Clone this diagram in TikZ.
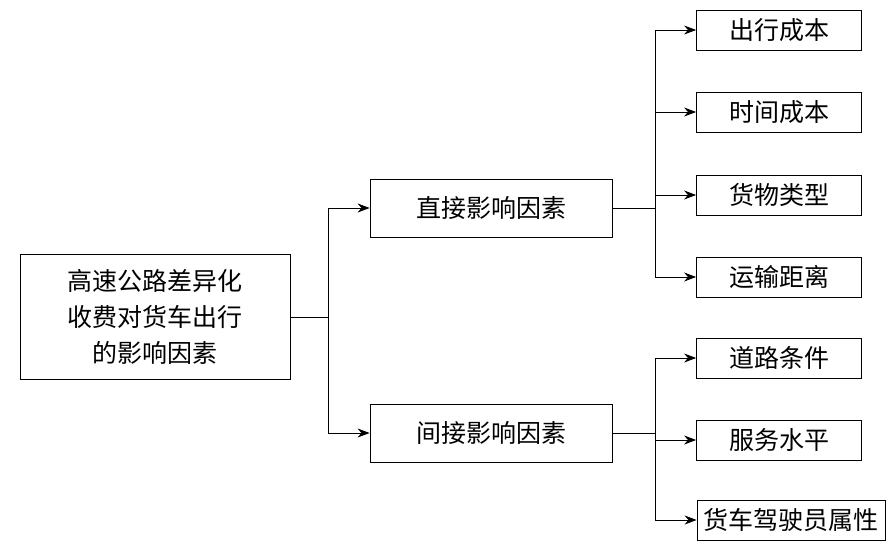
\documentclass[tikz,border=0pt]{standalone}
\usepackage{fontspec}
\newfontfamily\cjk{Noto Sans CJK SC}
\usetikzlibrary{arrows.meta, positioning, calc}

\begin{document}
\begin{tikzpicture}[x=1pt, y=-1pt,
    box/.style={rectangle, draw, thick, align=center, font=\cjk\fontsize{25}{36}\selectfont, inner sep=0pt},
    leaf/.style={box, minimum width=165pt, minimum height=40pt},
    mid/.style={box, minimum width=242pt, minimum height=58pt},
    arrow/.style={-{Stealth[length=12pt, width=9pt]}, thick}
]
\useasboundingbox (0,0) rectangle (896,558);

\node[box, minimum width=270pt, minimum height=125pt] (root) at (155,317) {高速公路差异化\\收费对货车出行\\的影响因素};
\node[mid] (direct) at (491,208) {直接影响因素};
\node[mid] (indirect) at (491,433) {间接影响因素};

\node[leaf] (cost) at (779,30) {出行成本};
\node[leaf] (time) at (779,112) {时间成本};
\node[leaf] (goods) at (779,195) {货物类型};
\node[leaf] (dist) at (779,277) {运输距离};
\node[leaf] (road) at (779,358) {道路条件};
\node[leaf] (serv) at (779,440) {服务水平};
\node[box, minimum width=188pt, minimum height=40pt] (driver) at (791,520) {货车驾驶员属性};

\coordinate (r) at (328,317);
\draw[thick] (root.east) -- (r);
\draw[arrow] (r) |- (direct.west);
\draw[arrow] (r) |- (indirect.west);

\coordinate (d) at (655,208);
\draw[thick] (direct.east) -- (d);
\foreach \t in {cost, time, goods, dist}
    \draw[arrow] (d) |- (\t.west);

\coordinate (i) at (655,433);
\draw[thick] (indirect.east) -- (i);
\foreach \t in {road, serv, driver}
    \draw[arrow] (i) |- (\t.west);

\end{tikzpicture}
\end{document}
